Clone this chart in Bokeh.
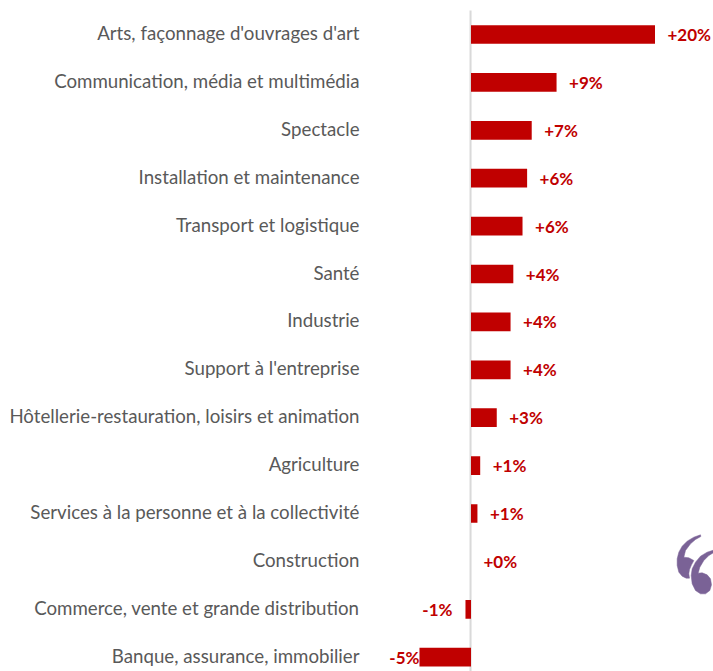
from bokeh.embed import file_html
from bokeh.resources import INLINE
from bokeh.models import ColumnDataSource, Range1d, FixedTicker
from bokeh.plotting import figure
from bokeh.core.properties import value

categories = ["Arts, façonnage d'ouvrages d'art", "Communication, média et multimédia", "Spectacle",
              "Installation et maintenance", "Transport et logistique", "Santé", "Industrie",
              "Support à l'entreprise", "Hôtellerie-restauration, loisirs et animation", "Agriculture",
              "Services à la personne et à la collectivité", "Construction",
              "Commerce, vente et grande distribution", "Banque, assurance, immobilier"]
values = [20.0, 9.3, 6.6, 6.1, 5.6, 4.6, 4.3, 4.3, 2.8, 1.0, 0.7, 0.0, -0.6, -5.6]
labels = ["+20%", "+9%", "+7%", "+6%", "+6%", "+4%", "+4%", "+4%", "+3%", "+1%", "+1%", "+0%", "-1%", "-5%"]

W, H = 713, 671
LEFT = 365
FW = W - LEFT
ROW = 47.9
PX = 9.2
rows = list(range(len(categories)))

p = figure(width=W, height=H, output_backend="svg", toolbar_location=None,
           frame_width=FW, frame_height=H,
           x_range=Range1d(-105.5 / PX, (FW - 105.5) / PX),
           y_range=Range1d((H - 34) / ROW, -34 / ROW),
           min_border_left=LEFT, min_border_right=0, min_border_top=0, min_border_bottom=0,
           x_axis_location=None)
p.outline_line_color = None
p.grid.visible = False

tick_pos = [i - 1.5 / ROW for i in rows]
ax = p.yaxis[0]
ax.ticker = FixedTicker(ticks=tick_pos)
ax.major_label_overrides = {t: c for t, c in zip(tick_pos, categories)}
ax.axis_line_color = None
ax.major_tick_line_color = None
ax.minor_tick_line_color = None
ax.major_tick_out = 0
ax.major_label_standoff = 6
ax.major_label_text_font = "Lato"
ax.major_label_text_font_size = "18.7px"
ax.major_label_text_color = "#595959"

p.segment(x0=[-0.05], x1=[-0.05], y0=[-24 / ROW], y1=[(H - 34) / ROW], line_color="#d9d9d9", line_width=2)

src = ColumnDataSource(dict(
    y=rows, v=values, zero=[0] * len(values), lab=labels,
    off=[12.5 if v >= 0 else (0 if v < -3 else -13) for v in values],
    align=["left" if v >= 0 else "right" for v in values]))
p.hbar(y="y", left="zero", right="v", height=0.39, fill_color="#c00000", line_color=None, source=src)
p.text(x="v", y="y", text="lab", x_offset="off", y_offset=0, text_align="align", text_baseline="middle",
       text_font=value("Lato"), text_font_style="bold", text_font_size="17px",
       text_color="#c00000", source=src)

# decorative quotation mark, outlined in pixels of the picture
def to_data(pts):
    xs = [((665 + cx / 3) - 470.5) / PX for cx, cy in pts]
    ys = [((525 + cy / 3) - 34) / ROW for cx, cy in pts]
    return xs, ys

comma1 = [(105, 28), (85, 35), (65, 47), (50, 62), (40, 80), (35, 100), (35, 120), (40, 140), (50, 152),
          (62, 158), (72, 158), (70, 145), (72, 132), (78, 118), (85, 105), (70, 97), (55, 95), (60, 75),
          (75, 55), (90, 42), (106, 33)]
comma2 = [(150, 72), (125, 80), (105, 92), (90, 110), (80, 130), (77, 150), (80, 175), (90, 195), (105, 205),
          (120, 205), (133, 195), (138, 178), (135, 160), (125, 148), (110, 142), (98, 143), (103, 125),
          (115, 105), (130, 90), (150, 78)]
for c in (comma1, comma2):
    xs, ys = to_data(c)
    p.patch(xs, ys, fill_color="#7a6296", line_color="#7a6296", line_width=0.5)

open("out.html", "w").write(file_html(p, INLINE))
